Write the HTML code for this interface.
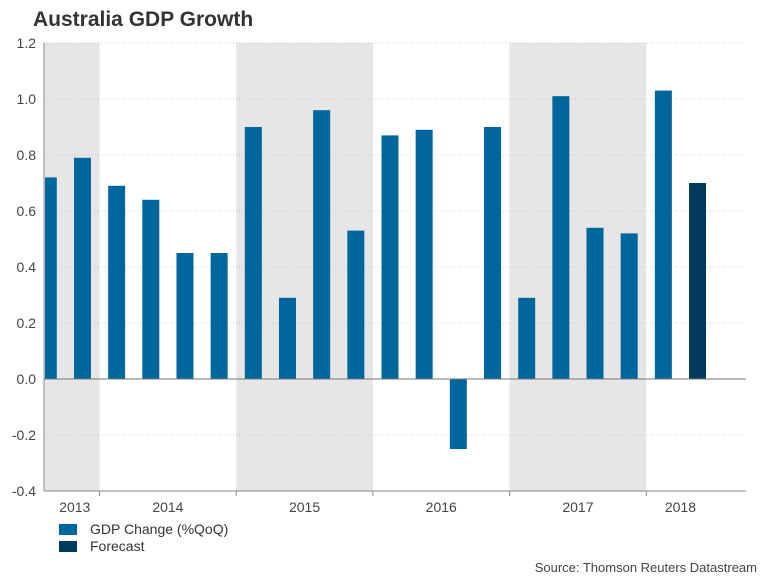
<!DOCTYPE html>
<html><head><meta charset="utf-8"><style>
body{margin:0;background:#fff;font-family:"Liberation Sans",sans-serif}
</style></head><body>
<svg width="768" height="576" viewBox="0 0 768 576" xmlns="http://www.w3.org/2000/svg">
<text x="33" y="26" font-size="21" font-weight="bold" fill="#333">Australia GDP Growth</text>
<g id="shade"></g><g id="grid"></g><g id="bars"></g><g id="axes"></g>
<rect x="59" y="524" width="18" height="11" fill="#00679d"/>
<text x="90" y="534" font-size="14" fill="#333">GDP Change (%QoQ)</text>
<rect x="59" y="541" width="18" height="11" fill="#003a5c"/>
<text x="90" y="551" font-size="14" fill="#333">Forecast</text>
<text x="757" y="572" font-size="13" fill="#444" text-anchor="end">Source: Thomson Reuters Datastream</text>
</svg>
<script>
const values=[0.72,0.79,0.69,0.64,0.45,0.45,0.90,0.29,0.96,0.53,0.87,0.89,-0.25,0.90,0.29,1.01,0.54,0.52,1.03,0.70];
const forecastFlags=[0,0,0,0,0,0,0,0,0,0,0,0,0,0,0,0,0,0,0,1];
const years=["2013","2014","2015","2016","2017","2018"];
const yearCounts=[2,4,4,4,4,2];
const yTicks=[1.2,1.0,0.8,0.6,0.4,0.2,0.0,-0.2,-0.4];
const NS="http://www.w3.org/2000/svg";
const L=44,R=746,T=43,B=491,yMin=-0.4,yMax=1.2;
const y=v=>B-(v-yMin)/(yMax-yMin)*(B-T);
const step=34.17,x0=48.3;
const xc=i=>x0+i*step;
function mk(p,tag,a){const e=document.createElementNS(NS,tag);for(const k in a)e.setAttribute(k,a[k]);document.getElementById(p).appendChild(e);return e;}
let idx=0;
years.forEach((yr,j)=>{
 const s=j===0?L:(xc(idx)-step/2);const e=Math.min(R,xc(idx+yearCounts[j]-1)+step/2);
 if(j%2===0&&j<years.length-1){const r=mk('shade','rect',{x:s,y:T,width:e-s,height:B-T,fill:'#e6e6e6'});
 
 }
 const t=mk('axes','text',{x:(s+e)/2+(j===0?3:0),y:512,'font-size':14,fill:'#444','text-anchor':'middle'});t.textContent=yr;
 
 
 if(j>0){const tk=mk('axes','line',{x1:s,x2:s,y1:B,y2:B+5,stroke:'#888'});
 
 }
 idx+=yearCounts[j];
});
yTicks.forEach(v=>{
 if(v!==0){const g=mk('grid','line',{x1:L,x2:R,y1:y(v),y2:y(v),stroke:'#ccc','stroke-dasharray':'1,2'});
 
 }
 const t=mk('axes','text',{x:36,y:y(v)+5,'font-size':14,fill:'#444','text-anchor':'end'});t.textContent=v.toFixed(1);
 
 
});
values.forEach((v,i)=>{
 let x=xc(i)-8.5,w=17;if(x<L+1){w-=L+1-x;x=L+1;}
 const b=mk('bars','rect',{x:x,y:Math.min(y(v),y(0)),width:w,height:Math.abs(y(v)-y(0)),fill:forecastFlags[i]?'#003a5c':'#00679d'});
 
 
});
const ax=mk('axes','line',{x1:L,x2:L,y1:T,y2:B,stroke:'#888'});


const bx=mk('axes','line',{x1:L,x2:R,y1:B,y2:B,stroke:'#888'});


const zx=mk('axes','line',{x1:L,x2:R,y1:y(0),y2:y(0),stroke:'#777'});


</script>
</body></html>
